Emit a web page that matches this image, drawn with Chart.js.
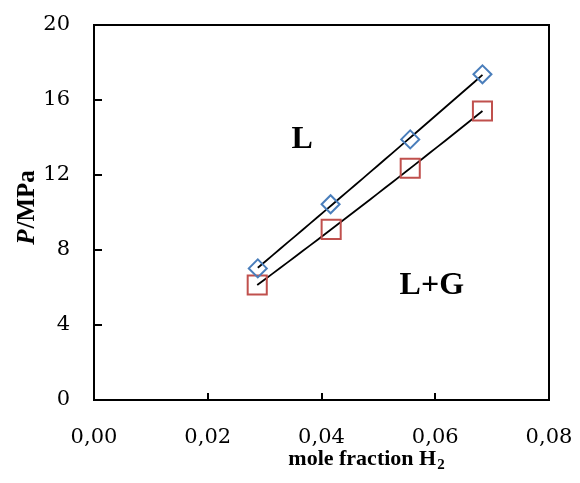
<!DOCTYPE html>
<html>
<head>
<meta charset="utf-8">
<script src="https://cdn.jsdelivr.net/npm/chart.js@4.4.1/dist/chart.umd.min.js"></script>
<style>
  html, body { margin: 0; padding: 0; background: #fff; }
</style>
</head>
<body>
<canvas id="chart" width="580" height="483"></canvas>
<script>
// data
const moleFractionL = [0.0288, 0.0416, 0.0556, 0.0683];
const pressureL = [7.02, 10.44, 13.90, 17.37];
const moleFractionLG = [0.0287, 0.0417, 0.0556, 0.0683];
const pressureLG = [6.13, 9.10, 12.36, 15.41];
const xTicks = [0, 0.02, 0.04, 0.06, 0.08];
const yTicks = [0, 4, 8, 12, 16, 20];
const regionLabels = ['L', 'L+G'];
const regionX = [0.0366, 0.0594];
const regionY = [13.9, 6.1];

const SERIF = '"DejaVu Serif", "Liberation Serif", serif';
const TITLE_SERIF = '"Liberation Serif", serif';

// least squares polynomial (trend line like the spreadsheet one)
function polyFit(xs, ys, deg) {
    const mx = xs.reduce((a, b) => a + b, 0) / xs.length;
    const n = deg + 1;
    const A = [];
    for (let i = 0; i < n; i++) {
        A.push(new Array(n + 1).fill(0));
    }
    xs.forEach((x, k) => {
        const u = x - mx;
        for (let i = 0; i < n; i++) {
            for (let j = 0; j < n; j++) A[i][j] += Math.pow(u, i + j);
            A[i][n] += ys[k] * Math.pow(u, i);
        }
    });
    for (let i = 0; i < n; i++) {
        let p = i;
        for (let r = i + 1; r < n; r++) if (Math.abs(A[r][i]) > Math.abs(A[p][i])) p = r;
        [A[i], A[p]] = [A[p], A[i]];
        for (let r = 0; r < n; r++) {
            if (r === i) continue;
            const f = A[r][i] / A[i][i];
            for (let c = i; c <= n; c++) A[r][c] -= f * A[i][c];
        }
    }
    const coef = A.map((row, i) => row[n] / row[i]);
    return x => coef.reduce((s, c, i) => s + c * Math.pow(x - mx, i), 0);
}

function trendPoints(xs, ys) {
    const f = polyFit(xs, ys, 2);
    const pts = [];
    const steps = 30;
    for (let i = 0; i <= steps; i++) {
        const x = xs[0] + (xs[xs.length - 1] - xs[0]) * i / steps;
        pts.push({ x: x, y: f(x) });
    }
    return pts;
}

const toPoints = (xs, ys) => xs.map((x, i) => ({ x: x, y: ys[i] }));

const decorations = {
    id: 'decorations',
    afterDraw(chart) {
        const { ctx, chartArea: area, scales: { x, y } } = chart;
        ctx.save();
        ctx.strokeStyle = '#000';
        ctx.lineWidth = 2;
        ctx.strokeRect(area.left, area.top, area.right - area.left, area.bottom - area.top);

        // inward tick marks
        ctx.beginPath();
        yTicks.forEach(v => {
            const py = Math.round(y.getPixelForValue(v));
            ctx.moveTo(area.left, py);
            ctx.lineTo(area.left + 8, py);
        });
        xTicks.forEach(v => {
            const px = Math.round(x.getPixelForValue(v));
            ctx.moveTo(px, area.bottom);
            ctx.lineTo(px, area.bottom - 7);
        });
        ctx.stroke();

        ctx.fillStyle = '#000';
        ctx.textBaseline = 'alphabetic';

        // x axis title with subscript
        const bold = 'bold 22px ' + TITLE_SERIF;
        const sub = 'bold 15px ' + TITLE_SERIF;
        const main = 'mole fraction H';
        ctx.font = bold;
        const w1 = ctx.measureText(main).width;
        ctx.font = sub;
        const w2 = ctx.measureText('2').width;
        let sx = 366 - (w1 + w2) / 2;
        ctx.textAlign = 'left';
        ctx.font = bold;
        ctx.fillText(main, sx, 465);
        ctx.font = sub;
        ctx.fillText('2', sx + w1 + 1, 469);

        // y axis title, rotated
        const yBold = 'bold 25px ' + TITLE_SERIF;
        const yItalic = 'italic bold 25px ' + TITLE_SERIF;
        ctx.save();
        ctx.translate(34, 208);
        ctx.rotate(-Math.PI / 2);
        ctx.font = yItalic;
        const wp = ctx.measureText('P').width;
        ctx.font = yBold;
        const wr = ctx.measureText('/MPa').width;
        const start = -(wp + wr) / 2;
        ctx.font = yItalic;
        ctx.fillText('P', start, 0);
        ctx.font = yBold;
        ctx.fillText('/MPa', start + wp + 1, 0);
        ctx.restore();

        // phase region labels
        ctx.font = 'bold 32px ' + TITLE_SERIF;
        ctx.textAlign = 'center';
        ctx.textBaseline = 'middle';
        regionLabels.forEach((t, i) => {
            ctx.fillText(t, x.getPixelForValue(regionX[i]), y.getPixelForValue(regionY[i]));
        });
        ctx.restore();
    }
};

new Chart(document.getElementById('chart'), {
    type: 'scatter',
    data: {
        datasets: [
            {
                label: 'L',
                data: toPoints(moleFractionL, pressureL),
                pointStyle: 'rectRot',
                pointRadius: 9,
                pointBorderWidth: 2,
                pointBorderColor: '#4a7ebb',
                pointBackgroundColor: 'rgba(0,0,0,0)'
            },
            {
                label: 'L+G',
                data: toPoints(moleFractionLG, pressureLG),
                pointStyle: 'rect',
                pointRadius: 13.5,
                pointBorderWidth: 2,
                pointBorderColor: '#c0504d',
                pointBackgroundColor: 'rgba(0,0,0,0)'
            },
            {
                label: 'fit L',
                data: trendPoints(moleFractionL, pressureL),
                showLine: true,
                pointRadius: 0,
                borderColor: '#000',
                borderWidth: 1.8
            },
            {
                label: 'fit L+G',
                data: trendPoints(moleFractionLG, pressureLG),
                showLine: true,
                pointRadius: 0,
                borderColor: '#000',
                borderWidth: 1.8
            }
        ]
    },
    options: {
        responsive: false,
        animation: false,
        events: [],
        layout: { padding: { top: 25, right: 31, left: 0, bottom: 0 } },
        plugins: {
            legend: { display: false },
            tooltip: { enabled: false }
        },
        scales: {
            x: {
                type: 'linear',
                min: 0,
                max: 0.08,
                afterBuildTicks: s => { s.ticks = xTicks.map(v => ({ value: v })); },
                afterFit: s => { s.height = 83; s.paddingLeft = 0; s.paddingRight = 0; },
                grid: { display: false, drawTicks: false },
                border: { display: false },
                ticks: {
                    padding: 25,
                    color: '#000',
                    font: { family: SERIF, size: 21 },
                    maxRotation: 0,
                    callback: v => v.toFixed(2).replace('.', ',')
                }
            },
            y: {
                min: 0,
                max: 20,
                afterBuildTicks: s => { s.ticks = yTicks.map(v => ({ value: v })); },
                afterFit: s => { s.width = 94; s.paddingTop = 0; s.paddingBottom = 0; },
                grid: { display: false, drawTicks: false },
                border: { display: false },
                ticks: {
                    padding: 24,
                    color: '#000',
                    font: { family: SERIF, size: 21 }
                }
            }
        }
    },
    plugins: [decorations]
});
</script>
</body>
</html>
